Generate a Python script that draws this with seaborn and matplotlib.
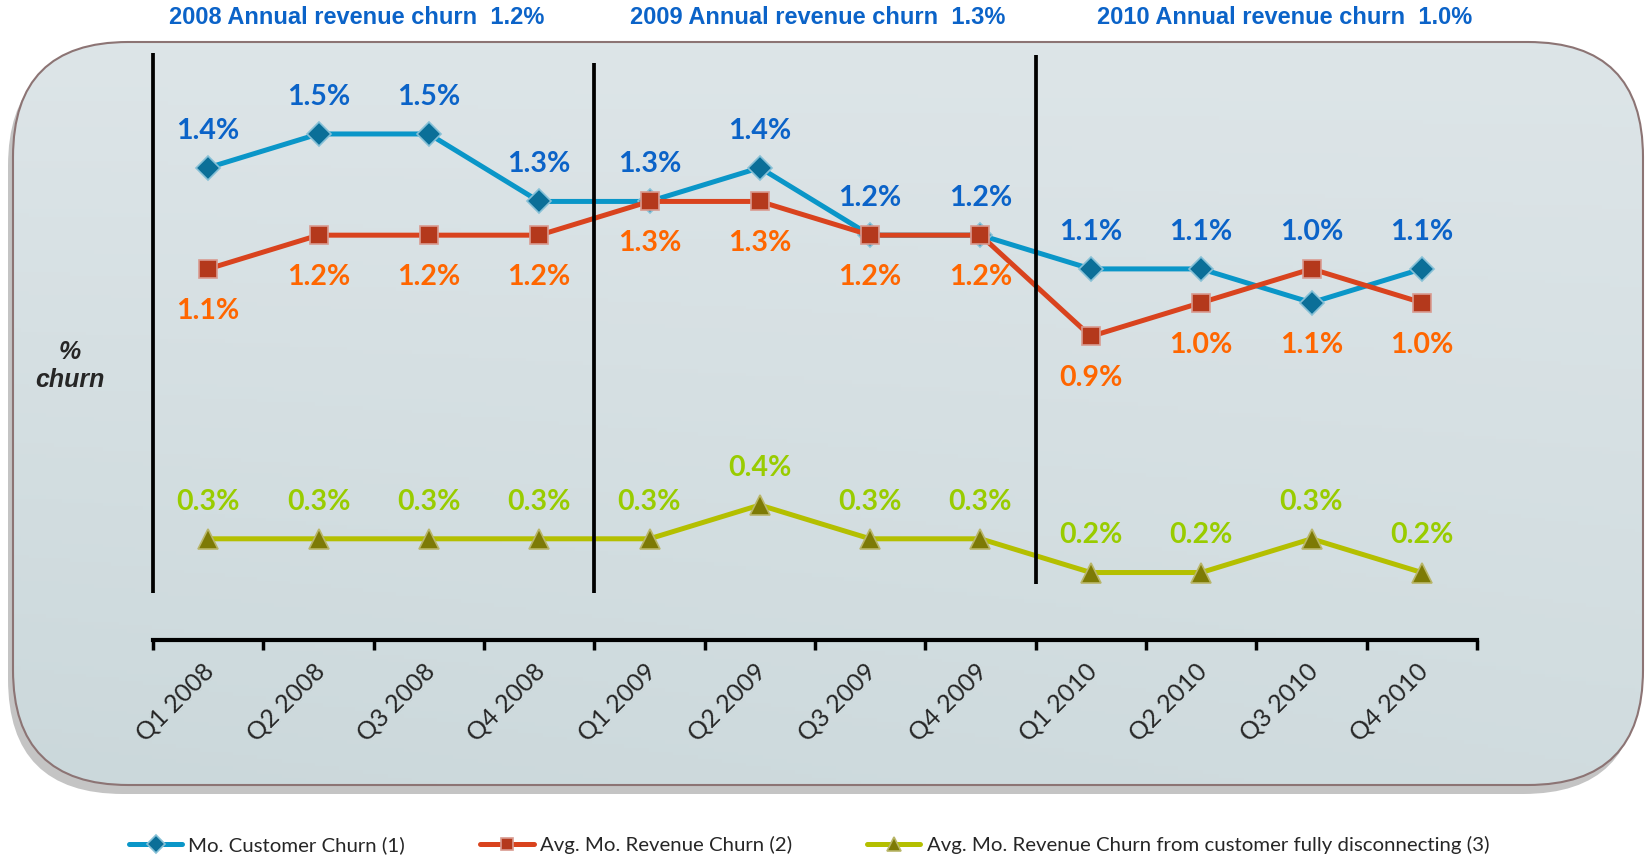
import numpy as np
import pandas as pd
import matplotlib
matplotlib.use('Agg')
import matplotlib.pyplot as plt
from matplotlib.patches import FancyBboxPatch
from matplotlib.transforms import ScaledTranslation
import seaborn as sns

# 데이터
quarters = ['Q1 2008', 'Q2 2008', 'Q3 2008', 'Q4 2008',
            'Q1 2009', 'Q2 2009', 'Q3 2009', 'Q4 2009',
            'Q1 2010', 'Q2 2010', 'Q3 2010', 'Q4 2010']
customer_churn = [1.4, 1.5, 1.5, 1.3, 1.3, 1.4, 1.2, 1.2, 1.1, 1.1, 1.0, 1.1]
revenue_churn = [1.1, 1.2, 1.2, 1.2, 1.3, 1.3, 1.2, 1.2, 0.9, 1.0, 1.1, 1.0]
disconnect_churn = [0.3, 0.3, 0.3, 0.3, 0.3, 0.4, 0.3, 0.3, 0.2, 0.2, 0.3, 0.2]
series_names = ['Mo. Customer Churn (1)', 'Avg. Mo. Revenue Churn (2)',
                'Avg. Mo. Revenue Churn from customer fully disconnecting (3)']
annual_titles = ['2008 Annual revenue churn  1.2%',
                 '2009 Annual revenue churn  1.3%',
                 '2010 Annual revenue churn  1.0%']

sns.set_style('white')
plt.rcParams['font.family'] = ['Lato', 'DejaVu Sans']

W, H = 1646, 858
fig = plt.figure(figsize=(W / 100, H / 100), dpi=100)

# 배경 (둥근 사각형 + 그라데이션)
bg = fig.add_axes([0, 0, 1, 1], zorder=-1)
bg.set_xlim(0, W)
bg.set_ylim(H, 0)
bg.axis('off')
shadow = FancyBboxPatch((8, 51), 1630, 743, boxstyle='round,pad=0,rounding_size=115',
                        fc='#8a8a8a', ec='none', alpha=0.5)
bg.add_patch(shadow)
box = FancyBboxPatch((13, 42), 1630, 743, boxstyle='round,pad=0,rounding_size=115',
                     fc='none', ec='#8c7474', lw=1.5, zorder=3)
bg.add_patch(box)
gy, gx = np.mgrid[0:1:200j, 0:1:200j]
grad = 0.35 * gy + 0.15 * (1 - gx) * gy
img = bg.imshow(grad, extent=(13, 1643, 785, 42), cmap=matplotlib.colors.LinearSegmentedColormap.from_list(
    'bg', ['#dde5e8', '#cbd8db']), vmin=0, vmax=0.5, aspect='auto', zorder=1)
img.set_clip_path(box)

# 본 차트
ax = fig.add_axes([153 / W, (H - 640) / H, 1324 / W, 587 / H])
ax.set_facecolor('none')
pos = np.arange(len(quarters))

styles = [
    (customer_churn, '#0a96c8', 'D', 12.5, '#0b6f98', '#86c0d6'),
    (revenue_churn, '#d9431e', 's', 12.5, '#b4391c', '#d99b90'),
    (disconnect_churn, '#b4bf00', '^', 14, '#7d7a05', '#b9b668'),
]
handles = []
for (vals, col, mk, ms, mfc, mec), name in zip(styles, series_names):
    df = pd.DataFrame({'pos': pos, 'value': vals})
    sns.lineplot(data=df, x='pos', y='value', ax=ax, color=col, lw=3.6,
                 marker=mk, markersize=ms, markerfacecolor=mfc,
                 markeredgecolor=mec, markeredgewidth=1.2, label=name, sort=False)
    handles.append(ax.lines[-1])
if ax.get_legend() is not None:
    ax.get_legend().remove()

# 데이터 레이블
blue_lbl, orange_lbl, green_lbl = '#0b63c8', '#ff6600', '#99cc00'
for i in range(len(quarters)):
    b, r, g = customer_churn[i], revenue_churn[i], disconnect_churn[i]
    ax.annotate(f'{b:.1f}%', (i, max(b, r)), xytext=(0, 21), textcoords='offset points',
                ha='center', va='baseline', color=blue_lbl, fontsize=20.5, fontweight='bold')
    ax.annotate(f'{r:.1f}%', (i, min(b, r)), xytext=(0, -36), textcoords='offset points',
                ha='center', va='baseline', color=orange_lbl, fontsize=20.5, fontweight='bold')
    ax.annotate(f'{g:.1f}%', (i, g), xytext=(0, 21), textcoords='offset points',
                ha='center', va='baseline', color=green_lbl, fontsize=20.5, fontweight='bold')

# 연도 구분선
ax.vlines(-0.5, 0.14, 1.74, color='black', lw=2.7, clip_on=False)
ax.vlines(3.5, 0.14, 1.71, color='black', lw=2.7, clip_on=False)
ax.vlines(7.5, 0.165, 1.735, color='black', lw=2.7, clip_on=False)

ax.set_xlim(-0.5, len(quarters) - 0.5)
ax.set_ylim(0, 1.74)
ax.set_xlabel('')
ax.set_ylabel('')
for s in ['left', 'right', 'top']:
    ax.spines[s].set_visible(False)
ax.spines['bottom'].set_linewidth(3)
ax.spines['bottom'].set_color('black')
ax.set_yticks([])
ax.set_xticks(np.arange(-0.5, len(quarters)), labels=[])
ax.set_xticks(pos, labels=quarters, minor=True)
ax.tick_params(axis='x', which='major', bottom=True, length=7, width=2.5, color='black',
               direction='out')
ax.tick_params(axis='x', which='minor', bottom=True, length=0, pad=14, labelsize=18)
shift = ScaledTranslation(-6 / 100, 0, fig.dpi_scale_trans)
for lbl in ax.get_xticklabels(minor=True):
    lbl.set_rotation(45)
    lbl.set_ha('right')
    lbl.set_va('top')
    lbl.set_rotation_mode('anchor')
    lbl.set_transform(lbl.get_transform() + shift)

# 제목 및 y축 레이블
title_x = [357, 818, 1285]
for tx, t in zip(title_x, annual_titles):
    fig.text(tx / W, 1 - 18 / H, t, ha='center', va='center', color=blue_lbl,
             fontsize=17, fontweight='bold', family=['Liberation Sans', 'DejaVu Sans'])
fig.text(70 / W, 1 - 366 / H, '%\nchurn', ha='center', va='center', fontsize=18,
         fontweight='bold', fontstyle='italic', linespacing=1.2,
         family=['Liberation Sans', 'DejaVu Sans'])

fig.legend(handles, series_names, loc='center', bbox_to_anchor=(0.4915, 0.0152), ncol=3,
           frameon=False, fontsize=14.7, handlelength=2.6, columnspacing=3.7,
           handletextpad=0.3, markerscale=0.7)

fig.savefig('out.png', dpi=100)
